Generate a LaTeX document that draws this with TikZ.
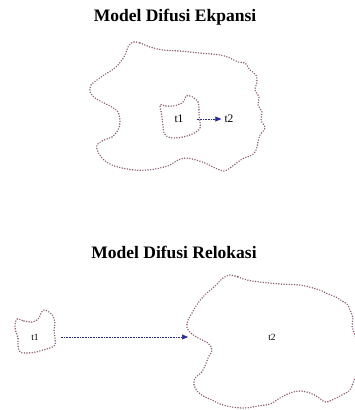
\documentclass[tikz,border=0pt]{standalone}
\usepackage{fontspec}
\setmainfont{Liberation Serif}
\usepackage{tikz}
\usetikzlibrary{arrows.meta}
\definecolor{blobred}{RGB}{140,92,104}
\definecolor{flowblue}{RGB}{40,40,150}

\begin{document}
\begin{tikzpicture}[x=1pt,y=-1pt,
  title/.style={font=\bfseries\fontsize{17.5}{19}\selectfont,inner sep=0pt},
  lbl/.style={font=\fontsize{11.5}{13}\selectfont,inner sep=2pt},
  lblsmall/.style={font=\fontsize{9.5}{11}\selectfont,inner sep=2pt},
  blob/.style={draw=blobred,line width=1.6pt,line cap=round,dash pattern=on 0pt off 2.6pt},
  flow/.style={draw=flowblue,line width=0.6pt,densely dotted,-{Triangle[length=6pt,width=5pt]}}]
\useasboundingbox (0,0) rectangle (355,410);

% ekspansi
\node[title] (ttlA) at (175,17) {Model Difusi Ekpansi};
\draw[blob] plot[smooth cycle,tension=0.55] coordinates {
  (133,42) (140,43) (150,47) (163,50) (180,51) (200,53) (220,55) (230,58)
  (238,62) (245,63) (250,70) (256,75) (257,82) (255,90) (259,97) (258,105)
  (262,112) (261,120) (265,128) (260,135) (258,142) (256,150) (252,155)
  (244,158) (238,162) (230,168) (224,171) (215,168) (205,163) (196,160)
  (186,158) (178,160) (170,165) (160,168) (148,170) (135,170) (122,168)
  (112,165) (104,160) (98,152) (97,145) (104,140) (112,137) (118,130)
  (120,122) (118,112) (110,106) (102,102) (95,98) (90,92) (91,85) (97,80)
  (104,75) (112,70) (118,65) (125,55) (128,47)};
\draw[blob] plot[smooth cycle,tension=0.55] coordinates {
  (160,105) (166,106) (173,106) (180,104) (184,101) (186,96) (190,96)
  (194,98) (198,102) (199,108) (199,115) (200,122) (200,128) (196,132)
  (190,135) (183,137) (175,138) (168,137) (164,133) (163,126) (162,118)
  (161,111)};
\node[lbl] (t1a) at (179,119) {t1};
\node[lbl] (t2a) at (229,119) {t2};
\draw[flow,shorten <=11pt,shorten >=1pt] (t1a) -- (t2a);

% relokasi
\node[title] (ttlB) at (174,252) {Model Difusi Relokasi};
\draw[blob] plot[smooth cycle,tension=0.55] coordinates {
  (17,319) (24,321) (33,322) (39,318) (41,313) (44,310) (49,312) (53,316)
  (55,323) (54,330) (55,338) (55,345) (50,348) (43,350) (36,352) (28,353)
  (20,352) (18,345) (18,338) (16,332) (15,326)};
\draw[blob] plot[smooth cycle,tension=0.55] coordinates {
  (230,275) (238,277) (247,280) (260,282) (280,284) (300,285) (313,288)
  (322,291) (328,294) (336,297) (342,301) (347,304) (350,310) (353,318)
  (352,326) (355,335) (357,345) (356,355) (358,365) (356,375) (353,383)
  (350,390) (342,395) (332,400) (325,402) (318,397) (310,393) (300,391)
  (290,393) (280,398) (270,404) (258,406) (245,408) (232,407) (220,404)
  (212,400) (205,397) (198,392) (194,385) (195,378) (201,373) (205,366)
  (208,358) (212,350) (208,343) (200,339) (192,334) (187,328) (188,320)
  (192,313) (196,306) (202,298) (207,293) (213,288) (218,283) (223,278)};
\node[lblsmall] (t1b) at (35,337) {t1};
\node[lblsmall] (t2b) at (272,337) {t2};
\coordinate (edgeB) at (188,337);
\draw[flow,shorten <=20pt] (t1b) -- (edgeB);
\end{tikzpicture}
\end{document}
